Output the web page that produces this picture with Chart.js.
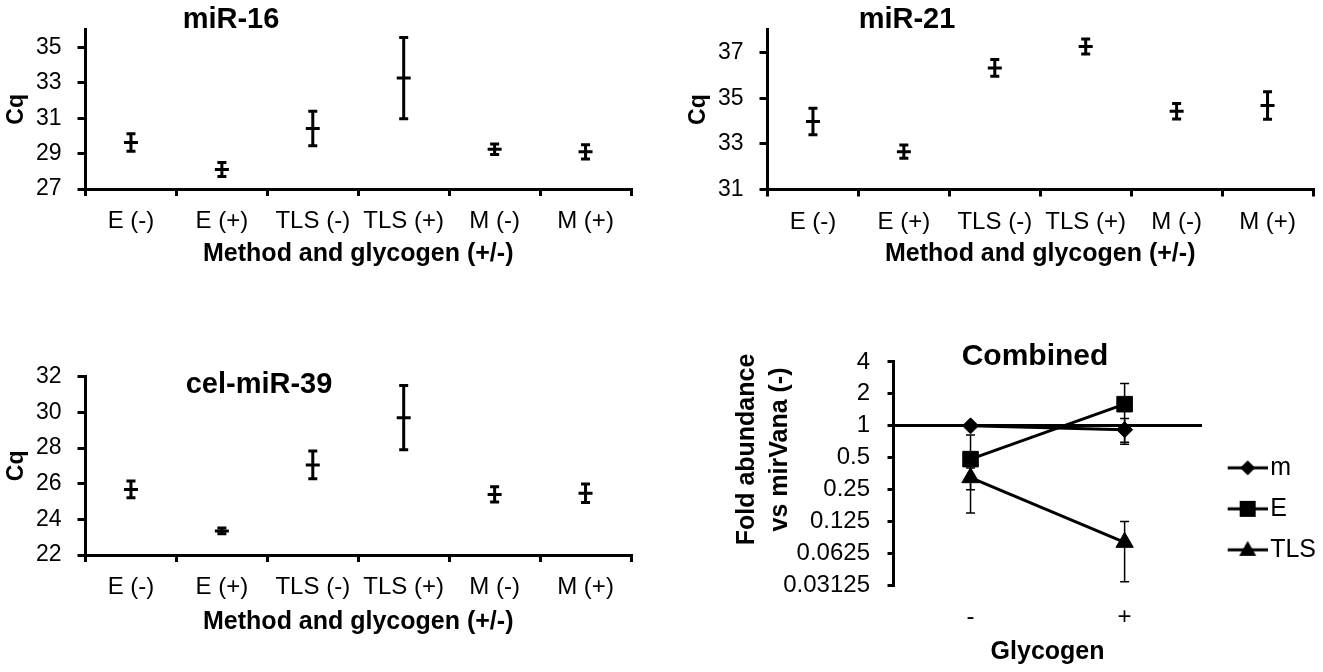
<!DOCTYPE html>
<html>
<head>
<meta charset="utf-8">
<title>Cq by method and glycogen</title>
<script src="https://cdn.jsdelivr.net/npm/chart.js@4.4.1/dist/chart.umd.min.js"></script>
<style>
  html, body { margin: 0; padding: 0; background: #fff; }
  body { width: 1323px; height: 672px; position: relative; overflow: hidden; }
  canvas { position: absolute; }
</style>
</head>
<body>
<canvas id="mir16" width="641" height="280" style="left:0;top:0"></canvas>
<canvas id="mir21" width="641" height="280" style="left:682px;top:0"></canvas>
<canvas id="cel39" width="641" height="342" style="left:0;top:330px"></canvas>
<canvas id="combined" width="606" height="342" style="left:720px;top:330px"></canvas>
<script>
'use strict'

// ---- data ----
var categories = ['E (-)', 'E (+)', 'TLS (-)', 'TLS (+)', 'M (-)', 'M (+)'];

var mir16Cq = [29.63, 28.1, 30.42, 33.27, 29.25, 29.1];
var mir16Err = [0.5, 0.4, 0.97, 2.3, 0.3, 0.4];
var mir16Ticks = [27, 29, 31, 33, 35];
var mir16Range = [27, 36];

var mir21Cq = [33.98, 32.66, 36.33, 37.27, 34.43, 34.68];
var mir21Err = [0.58, 0.29, 0.37, 0.33, 0.34, 0.6];
var mir21Ticks = [31, 33, 35, 37];
var mir21Range = [31, 38];

var cel39Cq = [25.68, 23.35, 27.05, 29.7, 25.4, 25.46];
var cel39Err = [0.47, 0.16, 0.78, 1.8, 0.43, 0.52];
var cel39Ticks = [22, 24, 26, 28, 30, 32];
var cel39Range = [22, 32];

var glycogenLevels = ['-', '+'];
var foldM = [1, 0.92];
var foldMErr = [0, 0.25];
var foldE = [0.486, 1.6];
var foldEErr = [0.335, 0.9];
var foldTLS = [0.325, 0.08];
var foldTLSErr = [0.075, 0.046];
var foldTicks = [0.03125, 0.0625, 0.125, 0.25, 0.5, 1, 2, 4];
var foldRange = [0.03125, 4];

var FONT = '"Liberation Sans", Arial, Helvetica, sans-serif';
Chart.defaults.font.family = FONT;
Chart.defaults.color = '#000';
Chart.defaults.animation = false;

// error bars: value +/- dataset.errors[i], drawn through the y scale
function drawErrorBars(chart, opts) {
  var ctx = chart.ctx;
  chart.data.datasets.forEach(function (ds, di) {
    if (!ds.errors) return;
    var meta = chart.getDatasetMeta(di);
    var yScale = chart.scales[meta.yAxisID];
    ctx.save();
    ctx.strokeStyle = '#000';
    ctx.lineWidth = opts.lineWidth;
    meta.data.forEach(function (pt, i) {
      var e = ds.errors[i];
      if (!e) return;
      var v = ds.data[i];
      var yTop = yScale.getPixelForValue(v + e);
      var yBot = yScale.getPixelForValue(v - e);
      ctx.beginPath();
      ctx.moveTo(pt.x, yTop);
      ctx.lineTo(pt.x, yBot);
      ctx.moveTo(pt.x - opts.cap, yTop);
      ctx.lineTo(pt.x + opts.cap, yTop);
      ctx.moveTo(pt.x - opts.cap, yBot);
      ctx.lineTo(pt.x + opts.cap, yBot);
      ctx.stroke();
    });
    ctx.restore();
  });
}

var errorBars = {
  id: 'errorBars',
  beforeDatasetsDraw: function (chart, args, opts) {
    if (opts.under) drawErrorBars(chart, opts);
  },
  afterDatasetsDraw: function (chart, args, opts) {
    if (!opts.under) drawErrorBars(chart, opts);
  }
};

// bold panel name sitting inside the plot area
var panelTitle = {
  id: 'panelTitle',
  afterDraw: function (chart, args, opts) {
    if (!opts.text) return;
    var ctx = chart.ctx;
    ctx.save();
    ctx.font = 'bold ' + opts.size + 'px ' + FONT;
    ctx.fillStyle = '#000';
    ctx.textAlign = 'center';
    ctx.textBaseline = 'middle';
    ctx.fillText(opts.text, opts.x, opts.y);
    ctx.restore();
  }
};

Chart.register(errorBars, panelTitle);

function cqChart(id, values, errors, ticks, range, title, box) {
  var canvas = document.getElementById(id);
  return new Chart(canvas, {
    type: 'line',
    data: {
      labels: categories,
      datasets: [{
        data: values,
        errors: errors,
        showLine: false,
        pointStyle: 'line',
        pointRadius: 7,
        pointBorderWidth: 3,
        borderColor: '#000',
        backgroundColor: '#000'
      }]
    },
    options: {
      responsive: false,
      layout: { padding: { top: box.top, right: 6.7, bottom: 0, left: 0 } },
      plugins: {
        legend: { display: false },
        tooltip: { enabled: false },
        errorBars: { lineWidth: 3, cap: 4.5 },
        panelTitle: { text: title, x: box.titleX, y: box.titleY, size: 29 }
      },
      scales: {
        x: {
          type: 'category',
          offset: true,
          grid: { offset: true, drawOnChartArea: false, color: '#000', lineWidth: 3, tickLength: 7 },
          border: { color: '#000', width: 3 },
          ticks: { font: { size: 24 }, padding: 11, maxRotation: 0, autoSkip: false },
          title: {
            display: true,
            text: 'Method and glycogen (+/-)',
            font: { size: 25, weight: 'bold' },
            padding: { top: 0, bottom: box.xTitlePad }
          },
          afterFit: function (s) { s.height = canvas.height - box.bottom; }
        },
        y: {
          min: range[0],
          max: range[1],
          afterBuildTicks: function (s) {
            s.ticks = ticks.map(function (v) { return { value: v }; });
          },
          grid: { drawOnChartArea: false, color: '#000', lineWidth: 3, tickLength: 8 },
          border: { color: '#000', width: 3 },
          ticks: { font: { size: 23 }, padding: 16 },
          title: { display: true, text: 'Cq', font: { size: 23, weight: 'bold' }, padding: { top: 3, bottom: 0 } },
          afterFit: function (s) { s.width = 85.5; }
        }
      }
    }
  });
}

cqChart('mir16', mir16Cq, mir16Err, mir16Ticks, mir16Range, 'miR-16',
  { top: 9.5, bottom: 189, titleX: 231, titleY: 20, xTitlePad: 11 });
cqChart('mir21', mir21Cq, mir21Err, mir21Ticks, mir21Range, 'miR-21',
  { top: 9, bottom: 189.5, titleX: 225, titleY: 20, xTitlePad: 11 });
cqChart('cel39', cel39Cq, cel39Err, cel39Ticks, cel39Range, 'cel-miR-39',
  { top: 46.7, bottom: 225, titleX: 259, titleY: 55, xTitlePad: 35.3 });

// legend icons: short line with the series marker on it
function legendIcon(shape) {
  var c = document.createElement('canvas');
  c.width = 60;
  c.height = 24;
  var g = c.getContext('2d');
  g.strokeStyle = '#000';
  g.fillStyle = '#000';
  g.lineWidth = 3;
  g.beginPath();
  g.moveTo(20, 12);
  g.lineTo(60, 12);
  g.stroke();
  g.beginPath();
  if (shape === 'diamond') {
    g.moveTo(40, 4.5); g.lineTo(47.5, 12); g.lineTo(40, 19.5); g.lineTo(32.5, 12);
  } else if (shape === 'square') {
    g.rect(32, 4, 16, 16);
  } else {
    g.moveTo(40, 3); g.lineTo(48.5, 18); g.lineTo(31.5, 18);
  }
  g.closePath();
  g.fill();
  return c;
}
var legendIcons = [legendIcon('diamond'), legendIcon('square'), legendIcon('triangle')];

var combinedCanvas = document.getElementById('combined');
function foldSeries(label, data, errors, style, radius) {
  return {
    label: label,
    data: data,
    errors: errors,
    xAxisID: 'x',
    yAxisID: 'y',
    borderColor: '#000',
    backgroundColor: '#000',
    borderWidth: 3,
    tension: 0,
    pointStyle: style,
    pointRadius: radius,
    pointBorderWidth: 1
  };
}

new Chart(combinedCanvas, {
  type: 'line',
  data: {
    labels: glycogenLevels,
    datasets: [
      foldSeries('m', foldM, foldMErr, 'rectRot', 8),
      foldSeries('E', foldE, foldEErr, 'rect', 11),
      foldSeries('TLS', foldTLS, foldTLSErr, 'triangle', 10)
    ]
  },
  options: {
    responsive: false,
    layout: { padding: { top: 15.7, right: 0, bottom: 0, left: 0 } },
    plugins: {
      tooltip: { enabled: false },
      errorBars: { lineWidth: 1.5, cap: 4.5, under: true },
      panelTitle: { text: 'Combined', x: 315, y: 26.7, size: 30 },
      legend: {
        position: 'right',
        labels: {
          usePointStyle: true,
          pointStyleWidth: 40,
          padding: 16,
          font: { size: 25 },
          color: '#000',
          generateLabels: function (chart) {
            var items = Chart.defaults.plugins.legend.labels.generateLabels(chart);
            items.forEach(function (it, i) { it.pointStyle = legendIcons[i]; });
            return items;
          }
        }
      }
    },
    scales: {
      x: {
        type: 'category',
        offset: true,
        grid: { display: false, drawTicks: false },
        border: { display: false },
        ticks: { font: { size: 24 }, padding: 17 },
        title: { display: true, text: 'Glycogen', font: { size: 25, weight: 'bold' }, padding: { top: 0, bottom: 5 } },
        afterFit: function (s) { s.height = 86.3; }
      },
      // the category axis line crosses the fold axis at 1
      x2: {
        type: 'category',
        axis: 'x',
        position: { y: 1 },
        grid: { display: false, drawTicks: false },
        border: { display: true, color: '#000', width: 3 },
        ticks: { display: false },
        afterFit: function (s) { s.height = 0; }
      },
      y: {
        type: 'logarithmic',
        min: foldRange[0],
        max: foldRange[1],
        afterBuildTicks: function (s) {
          s.ticks = foldTicks.map(function (v) { return { value: v }; });
        },
        grid: { drawOnChartArea: false, color: '#000', lineWidth: 3, tickLength: 6 },
        border: { color: '#000', width: 3 },
        ticks: {
          font: { size: 24 },
          padding: 17.5,
          callback: function (v) { return String(v); }
        },
        title: {
          display: true,
          text: ['       Fold abundance', '       vs mirVana (-)'],
          font: { size: 25, weight: 'bold', lineHeight: 1.333 },
          padding: { top: 10, bottom: 0 }
        },
        afterFit: function (s) { s.width = 173.5; }
      }
    }
  }
});
</script>
</body>
</html>
